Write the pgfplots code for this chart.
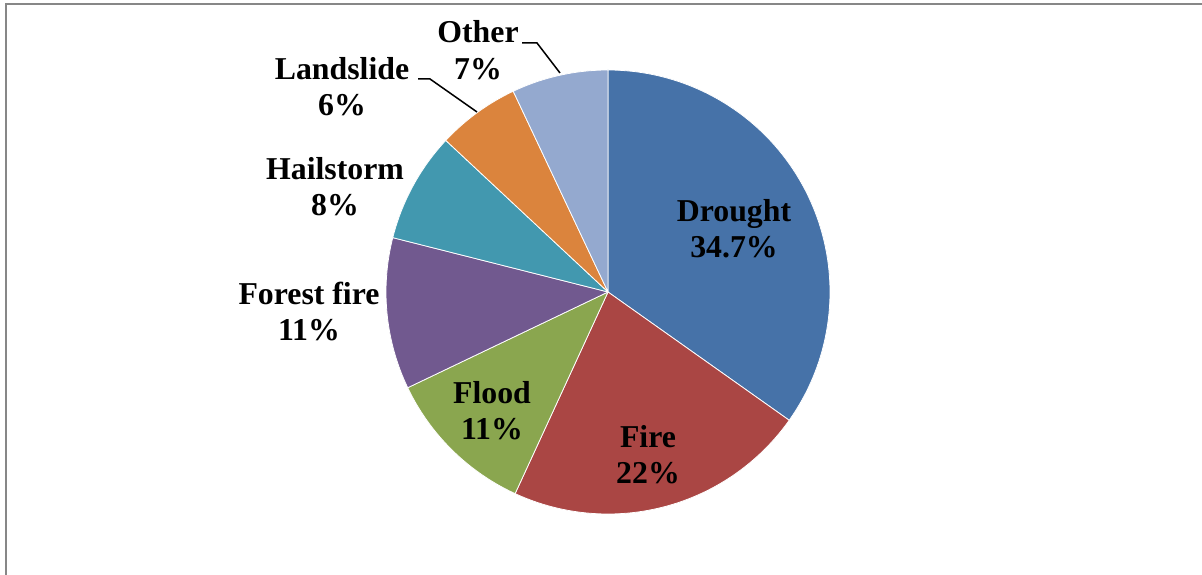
\documentclass[border=0pt]{standalone}
\usepackage{fontspec}
\setmainfont{Liberation Serif}
\usepackage{pgfplots}
\pgfplotsset{compat=1.18}

% Shares of events by type (percent)
\def\vDrought{34.7}
\def\vFire{22}
\def\vFlood{11}
\def\vForest{11}
\def\vHail{8}
\def\vLand{6}
\def\vOther{7}

% Slice boundaries, clockwise from 12 o'clock
\pgfmathsetmacro\tot{\vDrought+\vFire+\vFlood+\vForest+\vHail+\vLand+\vOther}
\pgfmathsetmacro\aA{90}
\pgfmathsetmacro\aB{\aA-360*\vDrought/\tot}
\pgfmathsetmacro\aC{\aB-360*\vFire/\tot}
\pgfmathsetmacro\aD{\aC-360*\vFlood/\tot}
\pgfmathsetmacro\aE{\aD-360*\vForest/\tot}
\pgfmathsetmacro\aF{\aE-360*\vHail/\tot}
\pgfmathsetmacro\aG{\aF-360*\vLand/\tot}
\pgfmathsetmacro\aH{\aG-360*\vOther/\tot}

\definecolor{cDrought}{HTML}{4672A8}
\definecolor{cFire}{HTML}{AA4644}
\definecolor{cFlood}{HTML}{8AA64F}
\definecolor{cForest}{HTML}{71598F}
\definecolor{cHail}{HTML}{4298AF}
\definecolor{cLand}{HTML}{DB843D}
\definecolor{cOther}{HTML}{94A9CF}
\definecolor{frame}{HTML}{878787}

\tikzset{lbl/.style={font=\fontsize{9.05}{10.4}\selectfont\bfseries, anchor=base, inner sep=0pt}}

% centre (608,292), radius 222; the first and last samples sit at the centre
\newcommand\slice[3]{%
  \addplot[fill=#3, draw=white, line width=0.22pt, line join=round,
           domain=-1:81, samples=83, variable=\t]
    ({ifthenelse(\t<0 || \t>80, 608, 608+222*cos(#1+(#2-#1)*\t/80))},
     {ifthenelse(\t<0 || \t>80, 292, 292-222*sin(#1+(#2-#1)*\t/80))});}

\begin{document}
\begin{tikzpicture}
\begin{axis}[
  width=12.02cm, height=5.75cm, scale only axis,
  xmin=0, xmax=1202, ymin=0, ymax=575, y dir=reverse,
  hide axis, clip=false,
]
\slice{\aA}{\aB}{cDrought}
\slice{\aB}{\aC}{cFire}
\slice{\aC}{\aD}{cFlood}
\slice{\aD}{\aE}{cForest}
\slice{\aE}{\aF}{cHail}
\slice{\aF}{\aG}{cLand}
\slice{\aG}{\aH}{cOther}

% data labels
\node[lbl] at (axis cs:734,222) {Drought};
\node[lbl] at (axis cs:734,258) {34.7\%};
\node[lbl] at (axis cs:648,447) {Fire};
\node[lbl] at (axis cs:648,483) {22\%};
\node[lbl] at (axis cs:492,403) {Flood};
\node[lbl] at (axis cs:492,439) {11\%};
\node[lbl] at (axis cs:309,305) {Forest fire};
\node[lbl] at (axis cs:309,341) {11\%};
\node[lbl] at (axis cs:335,180) {Hailstorm};
\node[lbl] at (axis cs:335,216) {8\%};
\node[lbl] at (axis cs:342,80) {Landslide};
\node[lbl] at (axis cs:342,116) {6\%};
\node[lbl] at (axis cs:478,43) {Other};
\node[lbl] at (axis cs:478,80) {7\%};

% leader lines
\draw[black, line width=0.43pt] (axis cs:522,43) -- (axis cs:537,43) -- (axis cs:560,73);
\draw[black, line width=0.43pt] (axis cs:418,79) -- (axis cs:430,79) -- (axis cs:477,112);

% chart area border
\draw[frame, line width=0.57pt] (axis cs:6,575) -- (axis cs:6,4) -- (axis cs:1202,4);
\end{axis}
\pgfresetboundingbox
\path (0,0) rectangle (12.02cm,5.75cm);
\end{tikzpicture}
\end{document}
